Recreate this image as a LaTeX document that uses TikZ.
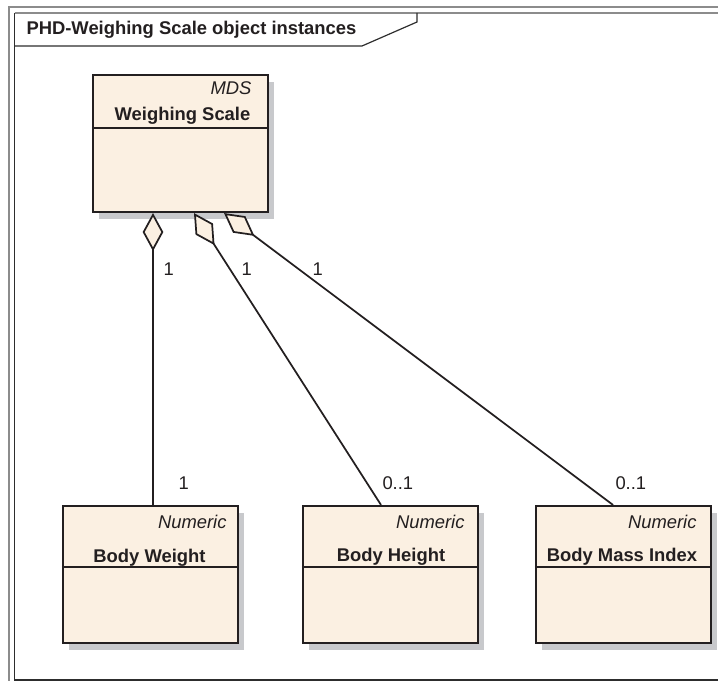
\documentclass[tikz,border=0pt]{standalone}
\usepackage{fontspec}
\setmainfont{Liberation Sans}
\usetikzlibrary{arrows.meta,shadows}

\tikzset{every picture/.style={line width=0.75pt}}
\tikzset{
  objbox/.style={draw={rgb, 255:red, 35; green, 31; blue, 32}, line width=1.6pt,
    fill={rgb, 255:red, 251; green, 240; blue, 226},
    minimum width=131.25pt, minimum height=102.75pt, inner sep=0pt,
    drop shadow={shadow xshift=4.5pt, shadow yshift=-5.25pt, opacity=1,
      fill={rgb, 255:red, 200; green, 201; blue, 204}}},
  sepline/.style={draw={rgb, 255:red, 35; green, 31; blue, 32}, line width=1.1pt},
  aggr/.style={draw={rgb, 255:red, 35; green, 31; blue, 32}, line width=1.3pt,
    {Diamond[length=28.5pt, width=15.5pt, fill={rgb, 255:red, 251; green, 240; blue, 226}]}-},
  txt/.style={inner sep=0pt, text={rgb, 255:red, 35; green, 31; blue, 32}, font=\fontsize{13.8}{16}\selectfont},
  framegrey/.style={draw={rgb, 255:red, 140; green, 140; blue, 140}, line width=1.5pt},
  framedark/.style={draw={rgb, 255:red, 45; green, 45; blue, 45}, line width=1.2pt}
}

\begin{document}
\begin{tikzpicture}[x=0.75pt,y=0.75pt,yscale=-1,xscale=1]
\useasboundingbox (0,0) rectangle (718,681);

%Shape: Frame
\draw [framegrey] (8.5,681) -- (8.5,7) -- (718,7) ;
\draw [framegrey] (14.5,13) -- (718,13) ;
\draw [framedark] (14.5,13) -- (14.5,680) -- (718,680) ;
%Shape: Tab
\draw [framedark, line width=0.9pt] (14.5,46) -- (362,46) -- (417,22) -- (417,13) ;

% Text Node
\draw (26,34.5) node (title) [txt, anchor=base west] {\bfseries PHD-Weighing Scale object instances};

%Shape: Rectangle
\draw (180.5,143.5) node (ws) [objbox] {};
\draw [sepline] (ws.west |- 0,128) -- (ws.east |- 0,128) ;
%Shape: Rectangle
\draw (150.5,574.5) node (bw) [objbox] {};
\draw [sepline] (bw.west |- 0,567) -- (bw.east |- 0,567) ;
%Shape: Rectangle
\draw (390.5,574.5) node (bh) [objbox] {};
\draw [sepline] (bh.west |- 0,567) -- (bh.east |- 0,567) ;
%Shape: Rectangle
\draw (623.5,574.5) node (bmi) [objbox] {};
\draw [sepline] (bmi.west |- 0,567) -- (bmi.east |- 0,567) ;

%Straight Lines
\draw [aggr] ([shift={(-27.5,0)}]ws.south) -- ([shift={(2.5,0)}]bw.north) ;
%Straight Lines
\draw [aggr] ([shift={(13.5,0)}]ws.south) -- ([shift={(-9.5,0)}]bh.north) ;
%Straight Lines
\draw [aggr] ([shift={(43.5,0)}]ws.south) -- ([shift={(-10.5,0)}]bmi.north) ;

% Text Node
\draw (252,95) node (wsst) [txt, anchor=base east] {\itshape MDS};
% Text Node
\draw (182.5,121) node (wsname) [txt, anchor=base] {\bfseries Weighing Scale};
% Text Node
\draw (227,528) node (bwst) [txt, anchor=base east] {\itshape Numeric};
% Text Node
\draw (149.5,562) node (bwname) [txt, anchor=base] {\bfseries Body Weight};
% Text Node
\draw (465,528) node (bhst) [txt, anchor=base east] {\itshape Numeric};
% Text Node
\draw (391,561) node (bhname) [txt, anchor=base] {\bfseries Body Height};
% Text Node
\draw (697,528) node (bmist) [txt, anchor=base east] {\itshape Numeric};
% Text Node
\draw (622,561) node (bminame) [txt, anchor=base] {\bfseries Body Mass Index};

% Text Node
\draw (163,276) node (m1) [txt, anchor=base west] {1};
% Text Node
\draw (241,276) node (m2) [txt, anchor=base west] {1};
% Text Node
\draw (312,276) node (m3) [txt, anchor=base west] {1};
% Text Node
\draw (178,489) node (m4) [txt, anchor=base west] {1};
% Text Node
\draw (382,489) node (m5) [txt, anchor=base west] {0..1};
% Text Node
\draw (615,489) node (m6) [txt, anchor=base west] {0..1};
\end{tikzpicture}
\end{document}
